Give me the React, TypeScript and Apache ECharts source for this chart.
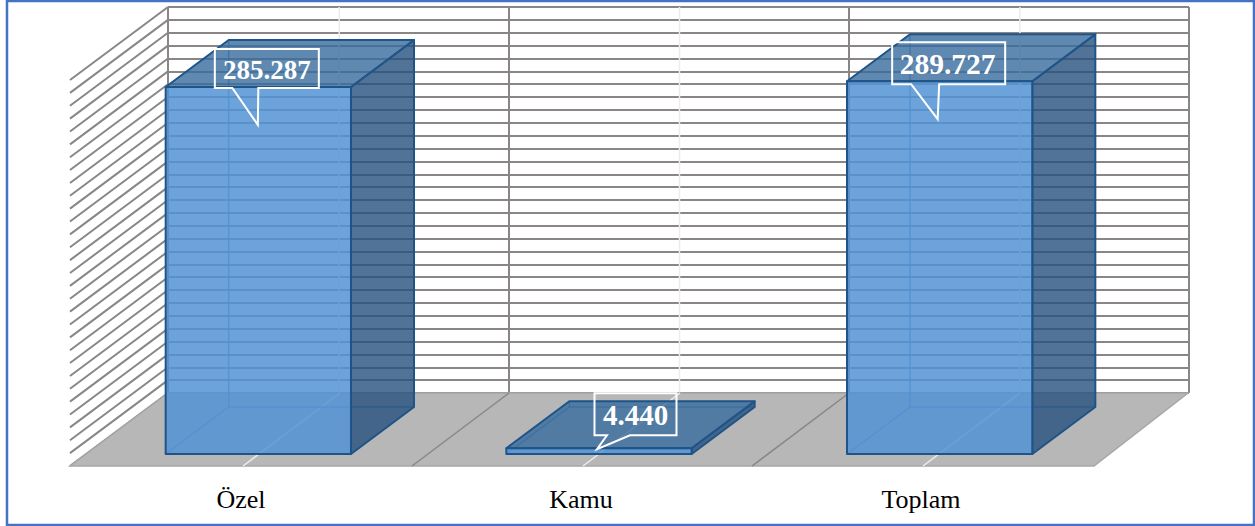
import React, { useEffect, useRef } from "react";
import * as echarts from "echarts";

const categories = ["Özel", "Kamu", "Toplam"];
const values = [285287, 4440, 289727];
const axisMax = 300000;
const axisStep = 10000;
const wallTicks = [
  0, 10000, 20000, 30000, 40000, 50000, 60000, 70000, 80000, 90000, 100000,
  110000, 120000, 130000, 140000, 150000, 160000, 170000, 180000, 190000, 200000,
  210000, 220000, 230000, 240000, 250000, 260000, 270000, 280000, 290000, 300000,
];
const categoryIndexes = [0, 1, 2];
const boundaryIndexes = [1, 2];

// Layout (not data)
const WALL = { left: 168, top: 7, width: 1021, height: 386 };
const FRONT = { left: 71, top: 80, width: 1020, height: 386 };
const BARS = { left: 88, top: 68, width: 1022, height: 386 };
const FLOOR_DY = 73;
const FLOOR_LEFT_EXTRA = 1;
const FLOOR_RIGHT_EXTRA = 3;
const FLOOR_DX_LEFT = 97;
const FLOOR_DX_RIGHT = 97;
const BAR_RATIO = 0.544;
const BAR_DX = 63;
const BAR_DY = 47;
const calloutLayouts = [
  { cx: 8.5, cy: -18.5, w: 104, h: 39, tipX: -0.5, tipY: 38, baseL: -26, baseR: 0, fontSize: 27, textDx: 0, textDy: 2 },
  { cx: 36.5, cy: -34, w: 82, h: 42, tipX: -2, tipY: 1, baseL: 8, baseR: 31, fontSize: 29, textDx: 0, textDy: 1 },
  { cx: 9, cy: -18, w: 113, h: 42, tipX: -2, tipY: 38, baseL: -28.5, baseR: -0.5, fontSize: 29.5, textDx: -1, textDy: 1 },
];

const GRID_COLOR = "#8a8686";
const GRID_WIDTH = 2;
const EDGE = "#1f5488";
const SERIF = "'Liberation Serif', serif";

const formatValue = (v: number) => String(v).replace(/\B(?=(\d{3})+$)/g, ".");

function renderBar(params: any, api: any) {
  const i = api.value(0);
  const v = api.value(1);
  const [cx, top] = api.coord([i, v]);
  const [, base] = api.coord([i, 0]);
  const w = api.size([1, 0])[0] * BAR_RATIO;
  const l = cx - w / 2;
  const r = cx + w / 2;
  const dx = BAR_DX;
  const dy = BAR_DY;
  const edge = { stroke: EDGE, lineWidth: 2, lineJoin: "round" };
  const inner = { stroke: "rgba(58,124,190,0.75)", lineWidth: 1.5, fill: "none" };
  const lay = calloutLayouts[params.dataIndex];
  const bx = cx + lay.cx - lay.w / 2;
  const by = top + lay.cy - lay.h / 2;
  const bxR = bx + lay.w;
  const byB = by + lay.h;
  const tipX = cx + lay.tipX;
  const tipY = top + lay.tipY;
  const children: any[] = [
    { type: "polyline", shape: { points: [[l, base], [l + dx, base - dy], [r + dx, base - dy]] }, style: inner },
    { type: "line", shape: { x1: l + dx, y1: base - dy, x2: l + dx, y2: top - dy }, style: inner },
    {
      type: "polygon",
      shape: { points: [[r, top], [r + dx, top - dy], [r + dx, base - dy], [r, base]] },
      style: { fill: "rgba(37,80,125,0.8)", ...edge },
    },
    {
      type: "polygon",
      shape: { points: [[l, top], [l + dx, top - dy], [r + dx, top - dy], [r, top]] },
      style: { fill: "rgba(55,108,156,0.8)", ...edge },
    },
    {
      type: "rect",
      shape: { x: l, y: top, width: w, height: base - top },
      style: { fill: "rgba(82,147,212,0.85)", ...edge },
    },
    {
      type: "polygon",
      shape: {
        points: [
          [bx, by], [bxR, by], [bxR, byB],
          [cx + lay.baseR, byB], [tipX, tipY], [cx + lay.baseL, byB],
          [bx, byB],
        ],
      },
      style: { fill: "none", stroke: "#ffffff", lineWidth: 2 },
    },
    {
      type: "text",
      x: bx + lay.w / 2 + lay.textDx,
      y: by + lay.h / 2 + lay.textDy,
      style: {
        text: formatValue(v),
        fill: "#ffffff",
        font: `bold ${lay.fontSize}px ${SERIF}`,
        align: "center",
        verticalAlign: "middle",
      },
    },
  ];
  return { type: "group", children };
}

function renderFloor(params: any) {
  const c = params.coordSys;
  const bottom = c.y + c.height;
  const left = c.x - FLOOR_LEFT_EXTRA;
  const right = c.x + c.width + FLOOR_RIGHT_EXTRA;
  return {
    type: "polygon",
    shape: {
      points: [
        [left, bottom],
        [c.x + FLOOR_DX_LEFT, bottom - FLOOR_DY],
        [c.x + c.width + FLOOR_DX_RIGHT, bottom - FLOOR_DY],
        [right, bottom],
      ],
    },
    style: { fill: "#b7b7b7", stroke: "#a8a6a6", lineWidth: 1.5 },
  };
}

function renderFloorBoundary(params: any, api: any) {
  const c = params.coordSys;
  const x = c.x + (c.width * api.value(0)) / categories.length + 1;
  const y = c.y + c.height;
  return {
    type: "line",
    shape: { x1: x, y1: y, x2: x + FLOOR_DX_LEFT, y2: y - FLOOR_DY },
    style: { stroke: GRID_COLOR, lineWidth: 1.5 },
  };
}

function renderFloorCentre(_params: any, api: any) {
  const [x, y] = api.coord([api.value(0), 0]);
  return {
    type: "line",
    shape: { x1: x + 2, y1: y, x2: x + 2 + FLOOR_DX_LEFT, y2: y - FLOOR_DY },
    style: { stroke: "#eeeeee", lineWidth: 1.5 },
  };
}

function renderWallCentre(_params: any, api: any) {
  const [x, y0] = api.coord([api.value(0), 0]);
  const [, y1] = api.coord([api.value(0), axisMax]);
  return {
    type: "line",
    shape: { x1: x + 1, y1: y0, x2: x + 1, y2: y1 },
    style: { stroke: "#ececec", lineWidth: 1.5 },
  };
}

function renderSideWallLine(params: any, api: any) {
  const c = params.coordSys;
  const [, y] = api.coord([0, api.value(1)]);
  return {
    type: "line",
    shape: { x1: c.x - FLOOR_LEFT_EXTRA, y1: y, x2: c.x + FLOOR_DX_LEFT, y2: y - FLOOR_DY },
    style: { stroke: GRID_COLOR, lineWidth: GRID_WIDTH },
  };
}

const hiddenX = (gridIndex: number) => ({
  type: "category" as const,
  gridIndex,
  data: categories,
  axisLine: { show: false },
  axisTick: { show: false },
  axisLabel: { show: false },
  splitLine: { show: false },
});
const hiddenY = (gridIndex: number) => ({
  type: "value" as const,
  gridIndex,
  min: 0,
  max: axisMax,
  interval: axisStep,
  axisLine: { show: false },
  axisTick: { show: false },
  axisLabel: { show: false },
  splitLine: { show: false },
});

export default function App() {
  const ref = useRef<HTMLDivElement>(null);
  useEffect(() => {
    document.body.style.margin = "0";
    const chart = echarts.init(ref.current!, null, { renderer: "svg" });
    chart.setOption({
      animation: false,
      backgroundColor: "#ffffff",
      grid: [
        { ...WALL, containLabel: false },
        { ...FRONT, containLabel: false },
        { ...BARS, containLabel: false },
      ],
      xAxis: [
        {
          ...hiddenX(0),
          splitLine: { show: true, interval: 0, lineStyle: { color: GRID_COLOR, width: GRID_WIDTH } },
        },
        {
          ...hiddenX(1),
          axisLabel: {
            show: true,
            interval: 0,
            color: "#000000",
            fontFamily: SERIF,
            fontSize: 26,
            margin: 20,
          },
        },
        hiddenX(2),
      ],
      yAxis: [
        {
          ...hiddenY(0),
          splitLine: { show: true, lineStyle: { color: GRID_COLOR, width: GRID_WIDTH } },
        },
        hiddenY(1),
        hiddenY(2),
      ],
      graphic: [
        {
          type: "rect",
          z: 100,
          shape: { x: 7, y: 1, width: 1247, height: 524 },
          style: { fill: "none", stroke: "#4472c4", lineWidth: 2.5 },
        },
      ],
      series: [
        {
          name: "wallCentre",
          type: "custom",
          xAxisIndex: 0,
          yAxisIndex: 0,
          silent: true,
          clip: false,
          data: categoryIndexes.map((i) => [i]),
          encode: { x: 0 },
          renderItem: renderWallCentre,
        },
        {
          name: "sideWall",
          type: "custom",
          xAxisIndex: 1,
          yAxisIndex: 1,
          silent: true,
          clip: false,
          data: wallTicks.map((t) => [0, t]),
          encode: { x: 0, y: 1 },
          renderItem: renderSideWallLine,
        },
        {
          name: "floor",
          type: "custom",
          xAxisIndex: 1,
          yAxisIndex: 1,
          silent: true,
          clip: false,
          data: [[0]],
          encode: { x: 0 },
          renderItem: renderFloor,
        },
        {
          name: "floorBoundary",
          type: "custom",
          xAxisIndex: 1,
          yAxisIndex: 1,
          silent: true,
          clip: false,
          data: boundaryIndexes.map((i) => [i]),
          encode: { x: 0 },
          renderItem: renderFloorBoundary,
        },
        {
          name: "floorCentre",
          type: "custom",
          xAxisIndex: 1,
          yAxisIndex: 1,
          silent: true,
          clip: false,
          data: categoryIndexes.map((i) => [i]),
          encode: { x: 0 },
          renderItem: renderFloorCentre,
        },
        {
          name: "bars",
          type: "custom",
          xAxisIndex: 2,
          yAxisIndex: 2,
          silent: true,
          clip: false,
          data: values.map((v, i) => [i, v]),
          encode: { x: 0, y: 1 },
          renderItem: renderBar,
        },
      ],
    });
    return () => chart.dispose();
  }, []);
  return <div ref={ref} style={{ width: 1255, height: 526, position: "absolute", left: 0, top: 0 }} />;
}
